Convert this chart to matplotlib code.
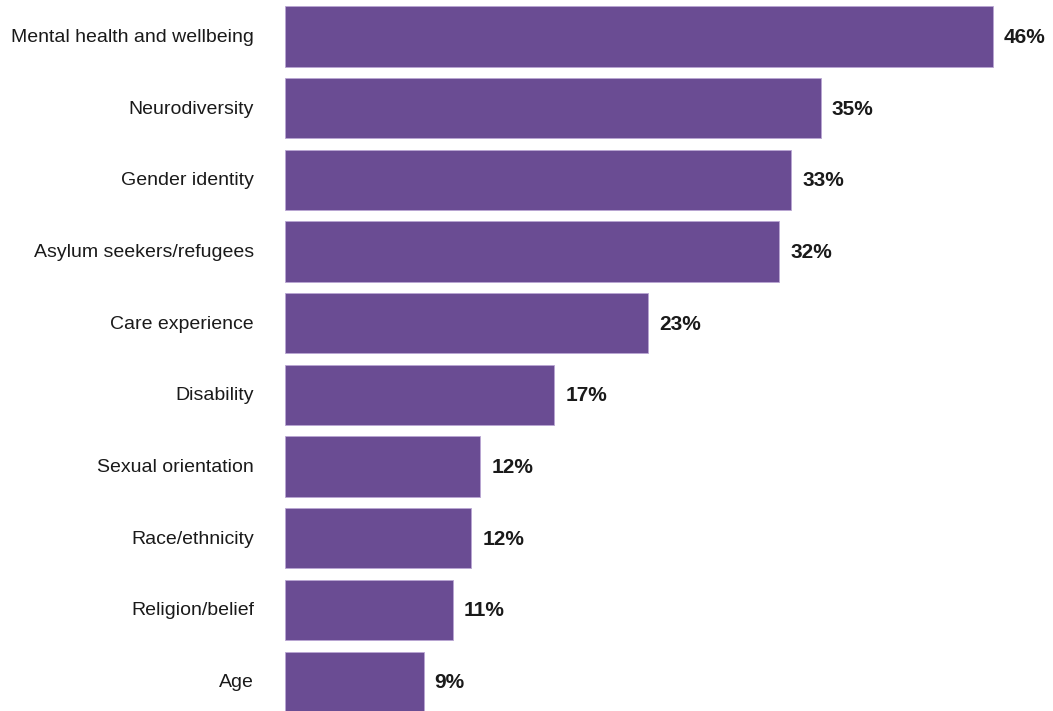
import numpy as np
import matplotlib
matplotlib.use("Agg")
import matplotlib.pyplot as plt
from matplotlib.transforms import offset_copy

# Data (bar lengths, labels as printed)
categories = ["Mental health and wellbeing", "Neurodiversity", "Gender identity",
              "Asylum seekers/refugees", "Care experience", "Disability",
              "Sexual orientation", "Race/ethnicity", "Religion/belief", "Age"]
values = [46.0, 34.8, 32.9, 32.1, 23.6, 17.5, 12.7, 12.1, 10.9, 9.0]
value_labels = ["46%", "35%", "33%", "32%", "23%", "17%", "12%", "12%", "11%", "9%"]

bar_color = "#6a4c93"
fontname = ["Liberation Sans", "DejaVu Sans"]

fig = plt.figure(figsize=(10.53, 7.11), dpi=100)
ax = fig.add_axes([285 / 1053, 0, 768 / 1053, 1])

y = np.arange(len(categories))
ax.barh(y, values, height=0.84, color=bar_color, edgecolor="#b9a6d3", linewidth=0.6)

ax.set_xlim(0, 768 / 15.39)
ax.set_ylim(9.41, -0.51)

# value labels after bar ends
lbl_tr = offset_copy(ax.transData, fig=fig, x=11, y=-1, units="dots")
for yi, v, lab in zip(y, values, value_labels):
    ax.text(v, yi, lab, transform=lbl_tr, ha="left", va="center",
            fontsize=15, fontweight="bold", family=fontname, color="#1a1a1a")

# category labels left of axis
cat_tr = offset_copy(ax.get_yaxis_transform(), fig=fig, x=-31, y=-1, units="dots")
for yi, c in zip(y, categories):
    ax.text(0, yi, c, transform=cat_tr, ha="right", va="center",
            fontsize=14, family=fontname, color="#1a1a1a")

ax.set_xticks([])
ax.set_yticks([])
for s in ax.spines.values():
    s.set_visible(False)

fig.savefig("out.png", dpi=100)
